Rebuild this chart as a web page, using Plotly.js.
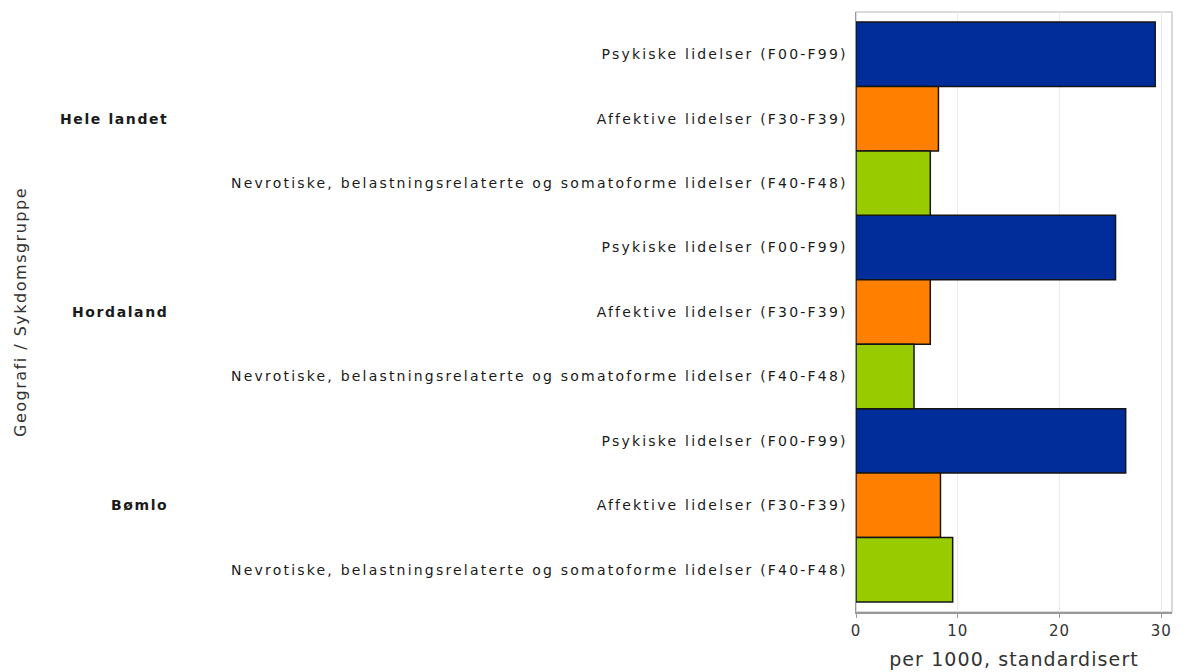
<!DOCTYPE html>
<html>
<head>
<meta charset="utf-8">
<script src="https://cdn.plot.ly/plotly-3.0.1.min.js"></script>
<style>
html,body{margin:0;padding:0;background:#fff;}
#chart{width:1189px;height:672px;}
.ytick text{letter-spacing:2.2px;}
.xtick text{letter-spacing:1px;}
.g-xtitle text{letter-spacing:1.1px;}
.annotation-text{letter-spacing:1.6px;}
</style>
</head>
<body>
<div id="chart"></div>
<script>
const geographies = ['Hele landet', 'Hordaland', 'Bømlo'];
const diseases = [
  'Psykiske lidelser (F00-F99)',
  'Affektive lidelser (F30-F39)',
  'Nevrotiske, belastningsrelaterte og somatoforme lidelser (F40-F48)'
];
const psykiske = [29.4, 25.5, 26.5];
const affektive = [8.1, 7.3, 8.3];
const nevrotiske = [7.3, 5.7, 9.5];
const xTickVals = [0, 10, 20, 30];

const series = [psykiske, affektive, nevrotiske];
const colors = ['#002D9A', '#FF8000', '#99CC00'];

const traces = series.map((vals, d) => ({
  type: 'bar',
  orientation: 'h',
  name: diseases[d],
  x: vals,
  y: geographies.map((g, gi) => gi * diseases.length + d),
  width: 1,
  marker: {color: colors[d], line: {color: '#151515', width: 1.5}},
  hoverinfo: 'x+name'
}));

const tickvals = [], ticktext = [];
geographies.forEach((g, gi) => diseases.forEach((dz, d) => {
  tickvals.push(gi * diseases.length + d);
  ticktext.push(dz);
}));

const annotations = geographies.map((g, gi) => ({
  xref: 'paper', yref: 'y',
  x: (170 - 856) / 316, y: gi * diseases.length + 1,
  xanchor: 'right', yanchor: 'middle',
  text: '<b>' + g + '</b>', showarrow: false,
  font: {family: 'DejaVu Sans', size: 14, color: '#1a1a1a'}
}));
annotations.push({
  xref: 'paper', yref: 'paper',
  x: (20 - 856) / 316, y: 0.5,
  xanchor: 'center', yanchor: 'middle', textangle: -90,
  text: '<span style="letter-spacing:1.5px">Geografi / Sykdomsgruppe</span>', showarrow: false,
  font: {family: 'DejaVu Sans', size: 16, color: '#333'}
});

const layout = {
  width: 1189, height: 672,
  margin: {l: 856, r: 17, t: 12, b: 60},
  paper_bgcolor: '#fff', plot_bgcolor: '#fff',
  showlegend: false,
  barmode: 'overlay',
  xaxis: {
    range: [0, 31.05],
    tickvals: xTickVals,
    showgrid: true, gridcolor: '#ebebeb', gridwidth: 1,
    zeroline: false,
    showline: true, linecolor: '#999', linewidth: 1.5,
    ticks: 'outside', ticklen: 4, tickcolor: '#999',
    tickfont: {family: 'DejaVu Sans', size: 15, color: '#333'},
    title: {text: 'per 1000, standardisert', font: {family: 'DejaVu Sans', size: 19, color: '#333'}, standoff: 14},
    fixedrange: true
  },
  yaxis: {
    range: [8.655, -0.655],
    tickvals: tickvals, ticktext: ticktext,
    showgrid: false, zeroline: false,
    showline: true, linecolor: '#999', linewidth: 1.5,
    ticks: 'outside', ticklen: 4, tickcolor: 'rgba(0,0,0,0)',
    tickfont: {family: 'DejaVu Sans', size: 14, color: '#1a1a1a'},
    fixedrange: true
  },
  shapes: [{
    type: 'rect', xref: 'paper', yref: 'paper', x0: 0, x1: 1, y0: 0, y1: 1,
    line: {color: '#d0d0d0', width: 1.5}, layer: 'below'
  }],
  annotations: annotations
};

Plotly.newPlot('chart', traces, layout, {displayModeBar: false, staticPlot: true});
</script>
</body>
</html>
